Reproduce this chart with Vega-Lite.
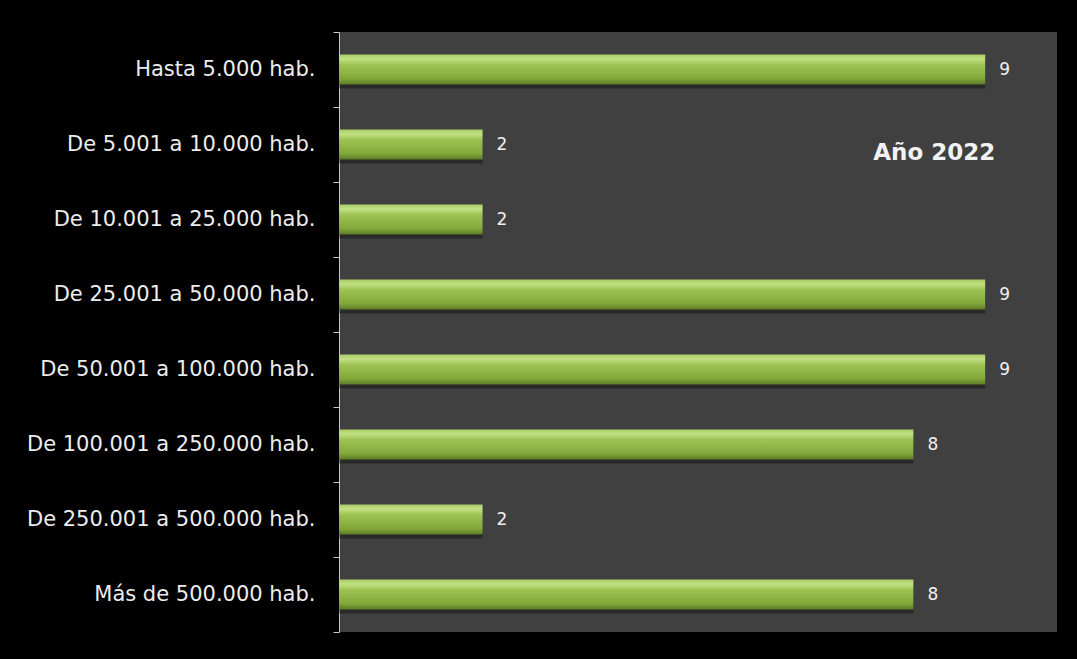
{
  "$schema": "https://vega.github.io/schema/vega-lite/v6.json",
  "width": 718,
  "height": 600,
  "autosize": {"type": "none"},
  "padding": {"left": 339, "top": 32, "right": 20, "bottom": 27},
  "background": "#000000",
  "config": {
    "view": {"fill": "#404040", "stroke": null},
    "font": "DejaVu Sans"
  },
  "data": {
    "values": [
      {"tramo": "Hasta 5.000 hab.", "n": 9},
      {"tramo": "De 5.001 a 10.000 hab.", "n": 2},
      {"tramo": "De 10.001 a 25.000 hab.", "n": 2},
      {"tramo": "De 25.001 a 50.000 hab.", "n": 9},
      {"tramo": "De 50.001 a 100.000 hab.", "n": 9},
      {"tramo": "De 100.001 a 250.000 hab.", "n": 8},
      {"tramo": "De 250.001 a 500.000 hab.", "n": 2},
      {"tramo": "Más de 500.000 hab.", "n": 8}
    ]
  },
  "encoding": {
    "y": {
      "field": "tramo",
      "type": "nominal",
      "sort": null,
      "scale": {"paddingInner": 0, "paddingOuter": 0},
      "axis": {
        "title": null,
        "tickBand": "extent",
        "domainColor": "#c8c8c8",
        "tickColor": "#c8c8c8",
        "tickSize": 6,
        "labelPadding": 18,
        "labelColor": "#ececec",
        "labelFont": "DejaVu Sans",
        "labelFontSize": 21,
        "labelLimit": 400
      }
    },
    "x": {
      "field": "n",
      "type": "quantitative",
      "scale": {"domain": [0, 10], "nice": false},
      "axis": null
    }
  },
  "layer": [
    {
      "mark": {"type": "bar", "height": {"band": 0.4}, "yOffset": 4, "color": "#000000", "opacity": 0.35}
    },
    {
      "mark": {
        "type": "bar",
        "height": {"band": 0.4},
        "color": {
          "gradient": "linear",
          "x1": 0, "y1": 0, "x2": 0, "y2": 1,
          "stops": [
            {"offset": 0, "color": "#a9cc66"},
            {"offset": 0.15, "color": "#c3e084"},
            {"offset": 0.35, "color": "#9cc352"},
            {"offset": 0.8, "color": "#82a83a"},
            {"offset": 1, "color": "#5c7a26"}
          ]
        }
      }
    },
    {
      "mark": {
        "type": "text",
        "align": "left",
        "baseline": "middle",
        "dx": 14,
        "fontSize": 17,
        "color": "#f0f0f0",
        "font": "DejaVu Sans"
      },
      "encoding": {"text": {"field": "n", "type": "quantitative"}}
    },
    {
      "data": {"values": [{"titulo": "Año 2022", "fila": "De 5.001 a 10.000 hab.", "pos": 8.29}]},
      "mark": {
        "type": "text",
        "align": "center",
        "baseline": "middle",
        "dy": 8,
        "fontSize": 23,
        "fontWeight": "bold",
        "color": "#f2f2f2",
        "font": "DejaVu Sans"
      },
      "encoding": {
        "y": {"field": "fila", "type": "nominal", "sort": null},
        "x": {"field": "pos", "type": "quantitative"},
        "text": {"field": "titulo", "type": "nominal"}
      }
    }
  ]
}
